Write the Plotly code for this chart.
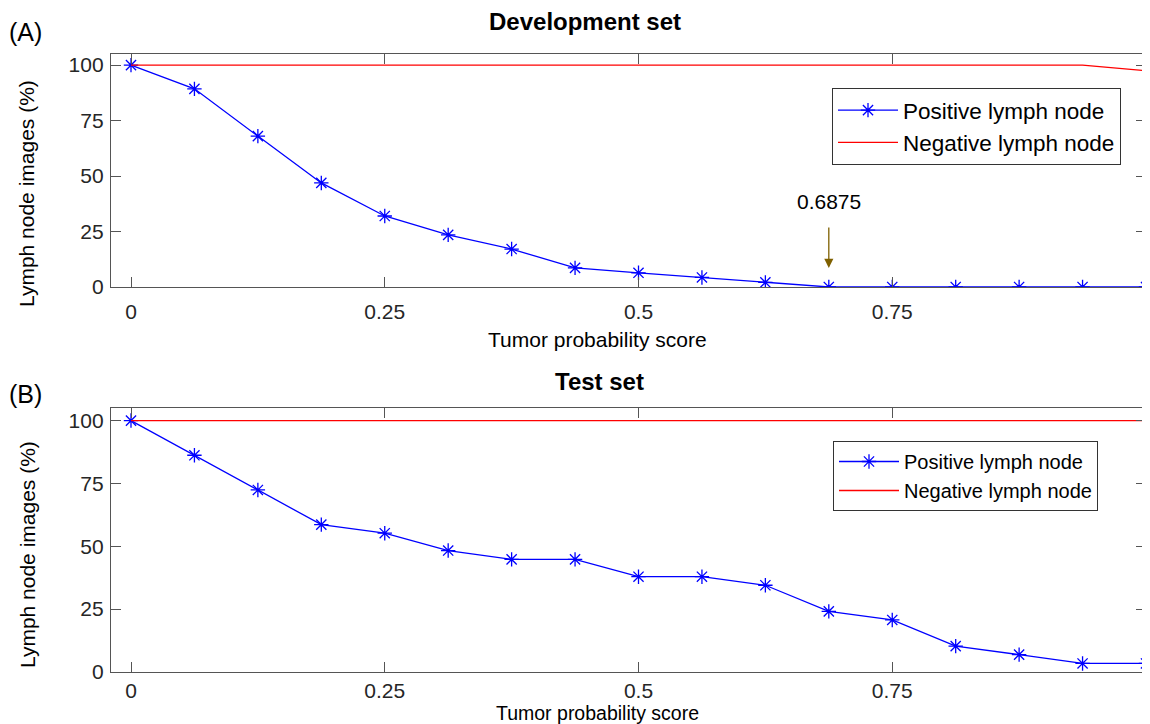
import plotly.graph_objects as go

# ---- data ----
scores = [i / 16 for i in range(17)]
dev_positive = [100, 89.3, 68.0, 46.9, 32.0, 23.5, 17.1, 8.6, 6.4, 4.3, 2.1, 0, 0, 0, 0, 0, 0]
dev_negative = [100, 100, 100, 100, 100, 100, 100, 100, 100, 100, 100, 100, 100, 100, 100, 100, 97.5]
test_positive = [100, 86.2, 72.4, 58.6, 55.2, 48.3, 44.8, 44.8, 37.9, 37.9, 34.5, 24.1, 20.7, 10.3, 6.9, 3.4, 3.4]
test_negative = [100] * 17
x_ticks = [0, 0.25, 0.5, 0.75, 1]
x_tick_labels = ["0", "0.25", "0.5", "0.75", "1"]
y_ticks = [0, 25, 50, 75, 100]
threshold = 0.6875

FONT = "Liberation Sans, Arial, sans-serif"
BLUE = "#0000FF"
RED = "#FF0000"
AX = "#555555"

OFF = 8  # page body margin offset
W, H = 1142, 716
ML, MR, MT, MB = 103, 4, 46, 52
PW, PH = W - ML - MR, H - MT - MB


def py(p):  # screen pixel y -> paper y
    return (H - MB - (p - OFF)) / PH


def px(p):  # screen pixel x -> paper x
    return (p - OFF - ML) / PW


fig = go.Figure()

for i, (pos, neg) in enumerate([(dev_positive, dev_negative), (test_positive, test_negative)]):
    xa = "x" if i == 0 else "x2"
    ya = "y" if i == 0 else "y2"
    lg = "legend" if i == 0 else "legend2"
    fig.add_trace(go.Scatter(
        x=scores, y=pos, mode="lines+markers", name="Positive lymph node",
        line=dict(color=BLUE, width=1.3),
        marker=dict(symbol="asterisk-open", size=12, line=dict(color=BLUE, width=1.3)),
        xaxis=xa, yaxis=ya, legend=lg,
    ))
    fig.add_trace(go.Scatter(
        x=scores, y=neg, mode="lines", name="Negative lymph node",
        line=dict(color=RED, width=1.3),
        xaxis=xa, yaxis=ya, legend=lg,
    ))

axis_common = dict(
    showline=True, linecolor=AX, linewidth=1.3, mirror="ticks",
    ticks="inside", ticklen=10, tickcolor=AX, tickwidth=1.3,
    showgrid=False, zeroline=False,
    tickfont=dict(family=FONT, size=21, color="#262626"),
)

fig.update_layout(
    width=W, height=H,
    margin=dict(l=ML, r=MR, t=MT, b=MB),
    paper_bgcolor="white", plot_bgcolor="white",
    font=dict(family=FONT, color="#000000"),
    xaxis=dict(domain=[0, 1], anchor="y", range=[-0.0197, 1.0], tickvals=x_ticks,
               ticktext=x_tick_labels, ticklabelstandoff=6, **axis_common),
    yaxis=dict(domain=[py(287), 1.0], anchor="x", range=[0, 105], tickvals=y_ticks,
               ticklabelstandoff=2, **axis_common),
    xaxis2=dict(domain=[0, 1], anchor="y2", range=[-0.0197, 1.0], tickvals=x_ticks,
                ticktext=x_tick_labels, ticklabelstandoff=0, **axis_common),
    yaxis2=dict(domain=[0, py(408)], anchor="x2", range=[0, 105], tickvals=y_ticks,
                ticklabelstandoff=2, **axis_common),
    legend=dict(x=px(832), y=py(88), xanchor="left", yanchor="top",
                bordercolor="#333333", borderwidth=1, bgcolor="white",
                font=dict(family=FONT, size=22.5, color="#000000"),
                tracegroupgap=0, itemwidth=60),
    legend2=dict(x=px(833), y=py(441), xanchor="left", yanchor="top",
                 bordercolor="#333333", borderwidth=1, bgcolor="white",
                 font=dict(family=FONT, size=20, color="#000000"),
                 tracegroupgap=0, itemwidth=60),
    showlegend=True,
)

ann = []
# panel labels
ann.append(dict(text="(A)", x=px(7), y=py(32), xref="paper", yref="paper",
                xanchor="left", yanchor="middle", showarrow=False,
                font=dict(family=FONT, size=25, color="#000000")))
ann.append(dict(text="(B)", x=px(7), y=py(394), xref="paper", yref="paper",
                xanchor="left", yanchor="middle", showarrow=False,
                font=dict(family=FONT, size=25, color="#000000")))
# titles
ann.append(dict(text="<b>Development set</b>", x=px(585), y=py(22), xref="paper", yref="paper",
                xanchor="center", yanchor="middle", showarrow=False,
                font=dict(family=FONT, size=24, color="#000000")))
ann.append(dict(text="<b>Test set</b>", x=px(599), y=py(381), xref="paper", yref="paper",
                xanchor="center", yanchor="middle", showarrow=False,
                font=dict(family=FONT, size=24, color="#000000")))
# x-axis titles
x_title_specs = [(339, 21), (713, 19.5)]
for yy, fs in x_title_specs:
    ann.append(dict(text="Tumor probability score", x=px(597), y=py(yy), xref="paper", yref="paper",
                    xanchor="center", yanchor="middle", showarrow=False,
                    font=dict(family=FONT, size=fs, color="#000000")))
# y-axis titles
for yy in (194, 555):
    ann.append(dict(text="Lymph node images (%)", x=px(27), y=py(yy), xref="paper", yref="paper",
                    xanchor="center", yanchor="middle", showarrow=False, textangle=-90,
                    font=dict(family=FONT, size=21, color="#000000")))
# threshold arrow
ann.append(dict(text="", x=threshold, y=8.6, xref="x", yref="y",
                ax=threshold, ay=27.5, axref="x", ayref="y",
                showarrow=True, arrowhead=2, arrowsize=1.4, arrowwidth=1.3,
                arrowcolor="#7F6000"))
ann.append(dict(text="0.6875", x=threshold, y=38.7, xref="x", yref="y",
                xanchor="center", yanchor="middle", showarrow=False,
                font=dict(family=FONT, size=21, color="#000000")))

fig.update_layout(annotations=ann)

fig.write_html("out.html")
